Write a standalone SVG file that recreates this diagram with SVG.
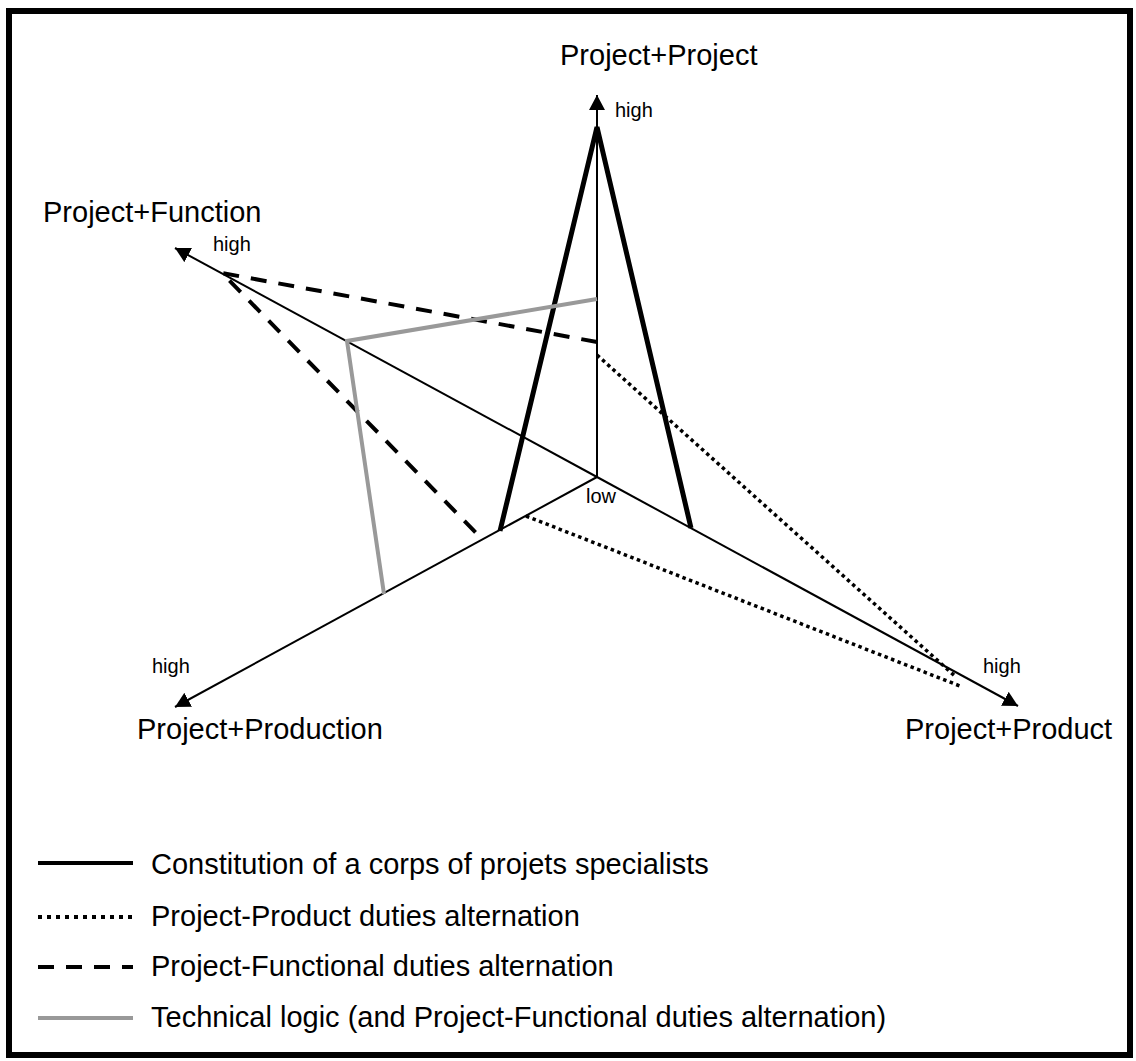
<svg xmlns="http://www.w3.org/2000/svg" width="1136" height="1061" viewBox="0 0 1136 1061">
<style>
text{font-family:"Liberation Sans",Arial,sans-serif;fill:#000}
.lab{font-size:29px}
.sm{font-size:20px}
.axis{stroke:#000;stroke-width:2;fill:none}
.solid{stroke:#000;stroke-width:5;fill:none;stroke-linejoin:miter}
.dot{stroke:#000;stroke-width:3.5;stroke-dasharray:3.5 3.5;fill:none}
.dash{stroke:#000;stroke-width:4;stroke-dasharray:16 12;fill:none}
.gray{stroke:#999;stroke-width:4;fill:none}
</style>
<defs>
<marker id="arr" markerUnits="userSpaceOnUse" markerWidth="16" markerHeight="16" refX="15" refY="8" orient="auto">
<path d="M0,0 L15,8 L0,16 Z" fill="#000"/>
</marker>
</defs>
<rect x="9" y="11" width="1121" height="1044" fill="#fff" stroke="#000" stroke-width="6"/>
<g id="axes">
<line class="axis" x1="597" y1="477" x2="597" y2="95" marker-end="url(#arr)"/>
<line class="axis" x1="597" y1="477" x2="175" y2="248" marker-end="url(#arr)"/>
<line class="axis" x1="597" y1="477" x2="1018" y2="706" marker-end="url(#arr)"/>
<line class="axis" x1="597" y1="477" x2="175" y2="707" marker-end="url(#arr)"/>
</g>
<g id="connectors">
<polyline class="solid" points="500,531 597,127 691,528"/>
<polyline class="dash" points="597,342 222,273 483,540"/>
<line class="dot" x1="597" y1="355" x2="956" y2="677"/>
<line class="dot" x1="526" y1="516" x2="960" y2="686"/>
<polyline class="gray" points="597,299 347,341 384,594"/>
</g>
<g id="node-project-project"><text class="lab" x="560" y="65">Project+Project</text><text class="sm" x="615" y="117">high</text></g>
<g id="node-project-function"><text class="lab" x="43" y="222">Project+Function</text><text class="sm" x="213" y="251">high</text></g>
<g id="node-project-production"><text class="lab" x="137" y="739">Project+Production</text><text class="sm" x="152" y="673">high</text></g>
<g id="node-project-product"><text class="lab" x="905" y="739">Project+Product</text><text class="sm" x="983" y="673">high</text></g>
<g id="node-low"><text class="sm" x="586" y="503">low</text></g>
<g id="legend">
<line x1="38" y1="863" x2="133" y2="863" stroke="#000" stroke-width="4"/>
<text class="lab" x="151" y="874">Constitution of a corps of projets specialists</text>
<line x1="38" y1="917" x2="133" y2="917" stroke="#000" stroke-width="4" stroke-dasharray="4 5"/>
<text class="lab" x="151" y="926">Project-Product duties alternation</text>
<line x1="38" y1="967" x2="133" y2="967" stroke="#000" stroke-width="4" stroke-dasharray="16 12"/>
<text class="lab" x="151" y="976">Project-Functional duties alternation</text>
<line x1="38" y1="1018" x2="133" y2="1018" stroke="#999" stroke-width="4"/>
<text class="lab" x="151" y="1027">Technical logic (and Project-Functional duties alternation)</text>
</g>
</svg>
